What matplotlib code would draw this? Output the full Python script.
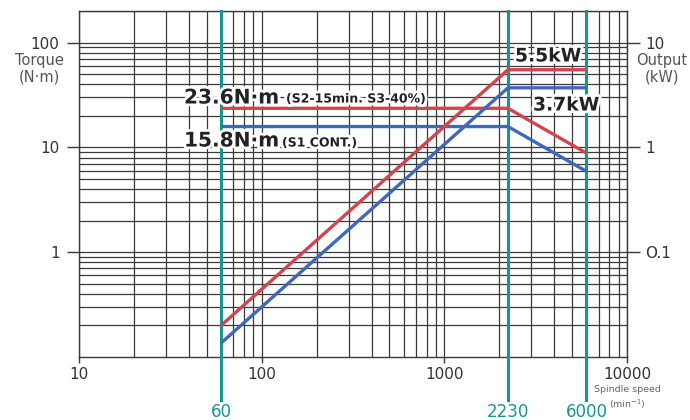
import matplotlib
matplotlib.use("Agg")
import matplotlib.pyplot as plt
import matplotlib.patheffects as pe
from matplotlib.ticker import LogLocator, NullFormatter, FixedLocator, FixedFormatter

# ---- data ----
speeds = [60, 2230, 6000]                 # min^-1
torque_s2 = [23.6, 23.6, 8.8]             # N·m  (S2-15min, S3-40%)
torque_s1 = [15.8, 15.8, 5.9]             # N·m  (S1 cont.)
output_s2 = [0.02, 5.5, 5.5]              # kW
output_s1 = [0.0136, 3.7, 3.7]            # kW
marker_speeds = [60, 2230, 6000]
x_ticks = [10, 100, 1000, 10000]
x_labels = ["10", "100", "1000", "10000"]
yl_ticks = [1, 10, 100]
yl_labels = ["1", "10", "100"]
yr_ticks = [0.1, 1, 10]
yr_labels = ["O.1", "1", "10"]

RED = "#d3444f"
BLUE = "#3f68bb"
TEAL = "#16968e"
GRID = "#3a3a3a"
TXT = "#333333"

W, H = 690, 420
fig = plt.figure(figsize=(6.9, 4.2), dpi=100)
ax = fig.add_axes([79 / W, 1 - 357 / H, (627 - 79) / W, (357 - 11) / H])
ax.set_xscale("log")
ax.set_yscale("log")
ax.set_xlim(10, 10000)
ax.set_ylim(0.1, 200)

ax2 = ax.twinx()
ax2.set_yscale("log")
ax2.set_ylim(0.01, 20)

ax.xaxis.set_minor_locator(LogLocator(base=10, subs=range(2, 10)))
ax.yaxis.set_minor_locator(LogLocator(base=10, subs=range(2, 10)))
ax.grid(True, which="both", color=GRID, linewidth=0.9)
ax.set_axisbelow(True)

for sp in ax.spines.values():
    sp.set_color(GRID)
    sp.set_linewidth(1.0)
for sp in ax2.spines.values():
    sp.set_visible(False)

# ticks
ax.xaxis.set_major_locator(FixedLocator(x_ticks))
ax.xaxis.set_major_formatter(FixedFormatter(x_labels))
ax.xaxis.set_minor_formatter(NullFormatter())
ax.tick_params(axis="x", which="major", length=4, width=1, color=GRID, labelsize=11, labelcolor=TXT, pad=3)
ax.tick_params(axis="x", which="minor", length=0)

ax.yaxis.set_major_locator(FixedLocator(yl_ticks))
ax.yaxis.set_major_formatter(FixedFormatter(yl_labels))
ax.yaxis.set_minor_formatter(NullFormatter())
ax.tick_params(axis="y", which="major", length=9, width=1, color=GRID, labelsize=11, labelcolor=TXT, pad=5)
ax.tick_params(axis="y", which="minor", length=0)

ax2.yaxis.set_major_locator(FixedLocator(yr_ticks))
ax2.yaxis.set_major_formatter(FixedFormatter(yr_labels))
ax2.yaxis.set_minor_locator(FixedLocator([]))
ax2.tick_params(axis="y", which="major", length=9, width=1, color=GRID, labelsize=11, labelcolor=TXT, pad=4)

# curves
ax.plot(speeds, torque_s2, color=RED, lw=2.4, solid_capstyle="butt", zorder=5)
ax.plot(speeds, torque_s1, color=BLUE, lw=2.4, solid_capstyle="butt", zorder=5)
ax2.plot(speeds, output_s2, color=RED, lw=2.4, solid_capstyle="butt", zorder=5)
ax2.plot(speeds, output_s1, color=BLUE, lw=2.4, solid_capstyle="butt", zorder=5)

# teal speed markers
tr = ax.get_xaxis_transform()
for s in marker_speeds:
    ax.plot([s, s], [-0.125, 1.0], transform=tr, color=TEAL, lw=2.2, clip_on=False, zorder=4)
    ax.text(s, -0.158, str(s), transform=tr, color=TEAL, fontsize=12, ha="center", va="center")

def ftxt(x, y, s, **kw):
    return fig.text(x / W, 1 - y / H, s, **kw)

ftxt(39, 61, "Torque", fontsize=10.5, color="#555555", ha="center", va="center")
ftxt(39, 77, "(N·m)", fontsize=10.5, color="#555555", ha="center", va="center")
ftxt(662, 61, "Output", fontsize=10.5, color="#555555", ha="center", va="center")
ftxt(662, 77, "(kW)", fontsize=10.5, color="#555555", ha="center", va="center")
ftxt(627, 390, "Spindle speed", fontsize=6.8, color="#666666", ha="center", va="center")
ftxt(627, 404, "(min$^{-1}$)", fontsize=6.8, color="#666666", ha="center", va="center")

halo = [pe.withStroke(linewidth=4, foreground="white")]
ftxt(184, 98, "23.6N·m", fontsize=14.5, fontweight="bold", color="#222222", ha="left", va="center", path_effects=halo)
ftxt(286, 99, "(S2-15min. S3-40%)", fontsize=9, fontweight="bold", color="#222222", ha="left", va="center", path_effects=halo)
ftxt(184, 141, "15.8N·m", fontsize=14.5, fontweight="bold", color="#222222", ha="left", va="center", path_effects=halo)
ftxt(282, 143, "(S1 CONT.)", fontsize=9, fontweight="bold", color="#222222", ha="left", va="center", path_effects=halo)
ftxt(515, 56, "5.5kW", fontsize=13.5, fontweight="bold", color="#222222", ha="left", va="center", path_effects=halo)
ftxt(533, 105, "3.7kW", fontsize=13.5, fontweight="bold", color="#222222", ha="left", va="center", path_effects=halo)

fig.savefig("out.png", dpi=100, facecolor="white")
